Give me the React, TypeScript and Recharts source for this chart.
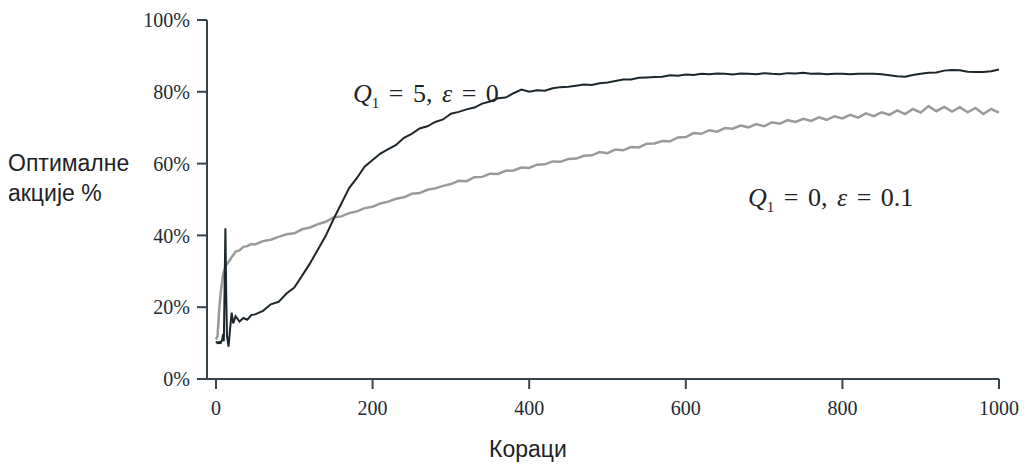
import { LineChart, Line, XAxis, YAxis } from 'recharts';

// steps (x values shared by both runs)
const steps = [
  0, 2, 4, 6, 8, 9, 10, 11, 12, 13, 14, 16, 18, 20, 22, 25, 30, 35, 40, 45, 50,
  60, 70, 80, 90, 100, 110, 120, 130, 140, 150,
  160, 170, 180, 190, 200, 210, 220, 230, 240, 250,
  260, 270, 280, 290, 300, 310, 320, 330, 340, 350,
  360, 370, 380, 390, 400, 410, 420, 430, 440, 450,
  460, 470, 480, 490, 500, 510, 520, 530, 540, 550,
  560, 570, 580, 590, 600, 610, 620, 630, 640, 650,
  660, 670, 680, 690, 700, 710, 720, 730, 740, 750,
  760, 770, 780, 790, 800, 810, 820, 830, 840, 850,
  860, 870, 880, 890, 900, 910, 920, 930, 940, 950,
  960, 970, 980, 990, 1000,
];

// optimistic initial values, greedy (Q1 = 5, eps = 0)
const optimistic = [
  10.5, 10, 10.3, 10, 11, 12.5, 10.5, 26, 42, 24, 12, 9, 14, 18.5, 15.5, 17.5, 16, 17, 16.5, 17.8, 18,
  19, 20.8, 21.5, 23.8, 25.5, 28.8, 32.2, 36, 39.8, 44.5,
  48.8, 53.2, 56, 59.2, 61, 62.8, 64, 65.2, 67.2, 68.3,
  69.8, 70.4, 71.6, 72.3, 73.9, 74.4, 75.1, 75.6, 76.7, 77.3,
  78.2, 78.4, 79.6, 80.6, 80, 80.4, 80.3, 81, 81.3, 81.4,
  81.7, 82, 81.9, 82.4, 82.6, 83, 83.4, 83.4, 83.9, 84,
  84.1, 84.2, 84.6, 84.5, 84.8, 84.7, 85, 84.9, 85.1, 85,
  84.8, 85.1, 85, 84.9, 85.2, 85, 84.9, 85.2, 85.1, 85.3,
  85, 85.1, 84.9, 85, 85, 84.9, 85, 85, 85, 84.9,
  84.6, 84.3, 84.2, 84.7, 85, 85.3, 85.4, 85.9, 86.1, 86,
  85.6, 85.5, 85.5, 85.7, 86.2,
];

// realistic initial values, eps-greedy (Q1 = 0, eps = 0.1)
const realistic = [
  11, 12, 19, 24, 27.5, 29, 30, 30.5, 31, 31.8, 32, 32.6, 33.2, 34, 34.5, 35.5, 35.8, 36.8, 37, 37.6, 37.5,
  38.4, 38.8, 39.6, 40.3, 40.6, 41.7, 42.2, 43.1, 43.8, 45,
  45.3, 46.2, 46.7, 47.6, 48, 48.9, 49.4, 50.2, 50.6, 51.6,
  51.8, 52.7, 53.1, 53.8, 54.3, 55.2, 55.1, 56.2, 56.3, 57.2,
  57.1, 58, 58.1, 58.9, 58.8, 59.7, 59.8, 60.6, 60.5, 61.3,
  61.4, 62.2, 62.3, 63.2, 62.9, 63.9, 63.7, 64.6, 64.5, 65.5,
  65.6, 66.3, 66.2, 67.3, 67.4, 68.5, 68.3, 69.3, 68.9, 69.9,
  69.7, 70.6, 70.1, 71, 70.4, 71.5, 71.1, 72.1, 71.6, 72.5,
  71.9, 72.9, 72.2, 73.2, 72.6, 73.6, 72.8, 74, 73.2, 74.3,
  73.6, 74.8, 73.8, 75.2, 74.2, 76, 74.6, 75.8, 74.5, 75.7,
  74.3, 75.5, 73.8, 75.2, 74.2,
];

const xTicks = [0, 200, 400, 600, 800, 1000];
const yTicks = [0, 20, 40, 60, 80, 100];

const data = steps.map((step, i) => ({
  step,
  optimistic: optimistic[i],
  realistic: realistic[i],
}));

const axisColor = '#37444b';
const tickStyle = { fontFamily: '"Liberation Serif", serif', fontSize: 20, fill: '#222b33' };
const sansLabel = { position: 'absolute' as const, fontFamily: '"Liberation Sans", sans-serif', fontSize: 23, lineHeight: 1, color: '#1e2226', whiteSpace: 'nowrap' as const };
const mathLabel = { position: 'absolute' as const, fontFamily: '"Liberation Serif", serif', fontSize: 26, lineHeight: 1, wordSpacing: 3, color: '#1e2226', whiteSpace: 'nowrap' as const };

const App = () => {
  return (
    <div style={{ position: 'relative', width: 1016, height: 458 }}>
      <LineChart width={1016} height={450} data={data} margin={{ top: 12, right: 25, left: 0, bottom: 49 }}>
        <XAxis
          dataKey="step"
          type="number"
          domain={[-11.5, 1000]}
          ticks={xTicks}
          height={30}
          tick={tickStyle}
          tickSize={10}
          tickMargin={12}
          stroke={axisColor}
          strokeWidth={2}
          allowDataOverflow
        />
        <YAxis
          type="number"
          domain={[0, 100]}
          ticks={yTicks}
          width={199}
          tick={tickStyle}
          tickSize={10}
          tickMargin={7}
          tickFormatter={(v) => `${v}%`}
          stroke={axisColor}
          strokeWidth={2}
        />
        <Line type="linear" dataKey="realistic" stroke="#9a9a9a" strokeWidth={2.5} dot={false} isAnimationActive={false} />
        <Line type="linear" dataKey="optimistic" stroke="#1c262b" strokeWidth={2} dot={false} isAnimationActive={false} />
      </LineChart>

      <div style={{ ...sansLabel, left: 0, top: 144 }}>Оптималне</div>
      <div style={{ ...sansLabel, left: 0, top: 174 }}>акције %</div>
      <div style={{ ...sansLabel, left: 481, top: 430 }}>Кораци</div>

      <div style={{ ...mathLabel, left: 345, top: 73 }}>
        <i>Q</i><sub style={{ fontSize: 15 }}>1</sub> = 5, <i>ε</i> = 0
      </div>
      <div style={{ ...mathLabel, left: 740, top: 177 }}>
        <i>Q</i><sub style={{ fontSize: 15 }}>1</sub> = 0, <i>ε</i> = 0.1
      </div>
    </div>
  );
};

export default App;
